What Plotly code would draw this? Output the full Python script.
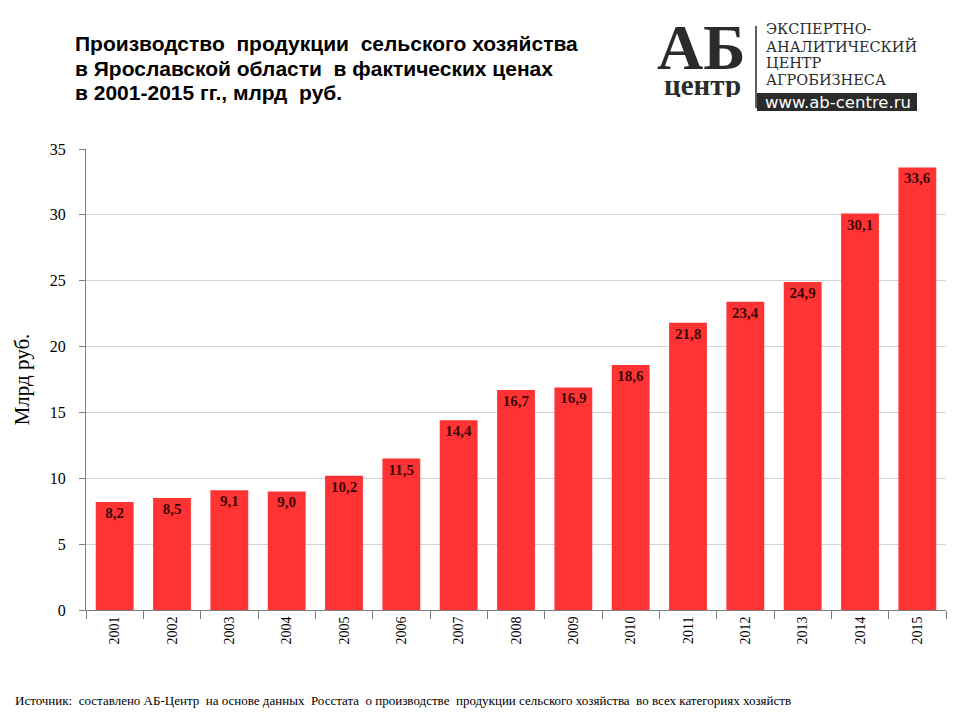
import plotly.graph_objects as go

years = [str(y) for y in range(2001, 2016)]
values = [8.2, 8.5, 9.1, 9.0, 10.2, 11.5, 14.4, 16.7, 16.9, 18.6, 21.8, 23.4, 24.9, 30.1, 33.6]
labels = [f"{v:.1f}".replace(".", ",") for v in values]

title_lines = [
    "Производство  продукции  сельского хозяйства",
    "в Ярославской области  в фактических ценах",
    "в 2001-2015 гг., млрд  руб.",
]
logo_lines = ["ЭКСПЕРТНО-", "АНАЛИТИЧЕСКИЙ", "ЦЕНТР", "АГРОБИЗНЕСА"]
source = ("Источник:  составлено АБ-Центр  на основе данных  Росстата  о производстве  "
          "продукции сельского хозяйства  во всех категориях хозяйств")

serif = "Liberation Serif, Times New Roman, serif"
sans = "Liberation Sans, Arial, sans-serif"

fig = go.Figure(go.Bar(
    x=years, y=values, text=labels,
    marker=dict(color="#ff3333", line=dict(width=0)),
    width=0.66,
    textposition="inside", insidetextanchor="end",
    textfont=dict(family=serif, size=15, color="#3a0606", weight="bold"),
    textangle=0,
))

# the page body adds an 8px margin, so the figure is 8px smaller than the window
fig.update_layout(
    width=952, height=712,
    margin=dict(l=78, r=14, t=141, b=110),
    plot_bgcolor="white", paper_bgcolor="white",
    showlegend=False,
)
fig.update_yaxes(
    range=[0, 35], dtick=5, showgrid=True, gridcolor="#d4d4d4", gridwidth=1,
    showline=True, linecolor="#808080", ticks="outside", ticklen=6, tickcolor="#808080",
    tickfont=dict(family=serif, size=16, color="black"), zeroline=False,
    ticklabelstandoff=10,
    title=dict(text="Млрд руб.", font=dict(family=serif, size=21, color="black"), standoff=14),
)
fig.update_xaxes(
    showline=True, linecolor="#808080", ticks="outside", ticklen=8, tickcolor="#808080",
    tickson="boundaries", tickangle=-90,
    tickfont=dict(family=serif, size=14, color="black"),
)

def px(x):
    return (x - 86) / 860

def py(y):
    return (610 - y) / 461

# title, one annotation per line to control line spacing
for i, line in enumerate(title_lines):
    fig.add_annotation(
        text=line, xref="paper", yref="paper",
        x=px(73), y=py(43 + 25 * i),
        xanchor="left", yanchor="middle", align="left", showarrow=False,
        font=dict(family=sans, size=21, color="black", weight="bold"),
    )

# logo
fig.add_annotation(text="<b>АБ</b>", xref="paper", yref="paper", x=px(701), y=py(47),
                   xanchor="center", yanchor="middle", showarrow=False, height=46,
                   font=dict(family=serif, size=64, color="#2b2b2b"))
fig.add_annotation(text="<b>центр</b>", xref="paper", yref="paper", x=px(702), y=py(85),
                   xanchor="center", yanchor="middle", showarrow=False, height=24,
                   font=dict(family=serif, size=29, color="#2b2b2b"))
fig.add_shape(type="line", xref="paper", yref="paper", x0=px(756), x1=px(756),
              y0=py(26), y1=py(108), line=dict(color="#2b2b2b", width=1.5))
for i, line in enumerate(logo_lines):
    fig.add_annotation(text=line, xref="paper", yref="paper", x=px(764), y=py(29 + 17 * i),
                       xanchor="left", yanchor="middle", showarrow=False,
                       font=dict(family="DejaVu Serif, serif", size=14.5, color="#2b2b2b"))
fig.add_shape(type="rect", xref="paper", yref="paper", x0=px(757), x1=px(917),
              y0=py(111), y1=py(93), fillcolor="#2b2b2b", line=dict(width=0))
fig.add_annotation(text="www.ab-centre.ru", xref="paper", yref="paper", x=px(838), y=py(102),
                   xanchor="center", yanchor="middle", showarrow=False,
                   font=dict(family="DejaVu Sans, sans-serif", size=16.5, color="white"))

# source
fig.add_annotation(text=source, xref="paper", yref="paper", x=px(13), y=py(700),
                   xanchor="left", yanchor="middle", showarrow=False,
                   font=dict(family=serif, size=13, color="black"))

fig.write_html("out.html")
